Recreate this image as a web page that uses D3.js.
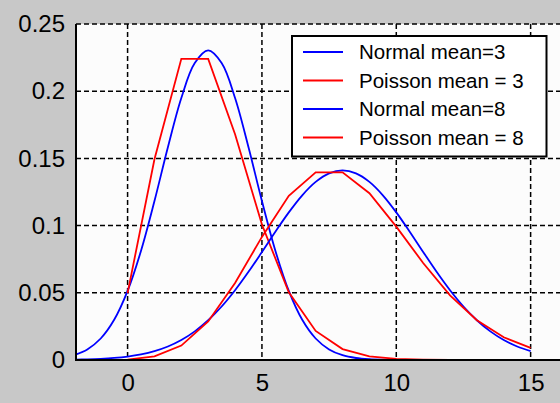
<!DOCTYPE html>
<html>
<head>
<meta charset="utf-8">
<script src="https://cdn.jsdelivr.net/npm/d3@7"></script>
<style>
  html, body { margin: 0; padding: 0; background: #c8c8c8; }
  svg { display: block; }
  text { font-family: "Liberation Sans", Arial, sans-serif; fill: #000; }
</style>
</head>
<body>
<svg id="chart" width="560" height="403"></svg>
<script>
// ---- data ----
const normalX = [-2,-1.5,-1,-0.5,0,0.5,1,1.5,2,2.5,3,3.5,4,4.5,5,5.5,6,6.5,7,7.5,8,8.5,9,9.5,10,10.5,11,11.5,12,12.5,13,13.5,14,14.5,15];
const normal3 = [0.00357,0.00788,0.01600,0.02990,0.05139,0.08128,0.11826,0.15830,0.19497,0.22093,0.23033,0.22093,0.19497,0.15830,0.11826,0.08128,0.05139,0.02990,0.01600,0.00788,0.00357,0.00149,0.00057,0.00020,0.00007,0.00002,0,0,0,0,0,0,0,0,0];
const normal8 = [0.00027,0.00050,0.00089,0.00154,0.00258,0.00419,0.00660,0.01006,0.01487,0.02130,0.02957,0.03979,0.05189,0.06559,0.08037,0.09544,0.10985,0.12255,0.13250,0.13886,0.14105,0.13886,0.13250,0.12255,0.10985,0.09544,0.08037,0.06559,0.05189,0.03979,0.02957,0.02130,0.01487,0.01006,0.00660];
const poissonX = [0,1,2,3,4,5,6,7,8,9,10,11,12,13,14,15];
const poisson3 = [0.04979,0.14936,0.22404,0.22404,0.16803,0.10082,0.05041,0.02160,0.00810,0.00270,0.00081,0.00022,0.00006,0.00001,0,0];
const poisson8 = [0.00034,0.00268,0.01073,0.02863,0.05725,0.09160,0.12214,0.13959,0.13959,0.12408,0.09926,0.07219,0.04813,0.02962,0.01692,0.00903];
const legendLabels = ["Normal mean=3", "Poisson mean = 3", "Normal mean=8", "Poisson mean = 8"];
const xTicks = [0, 5, 10, 15];
const yTicks = [0, 0.05, 0.1, 0.15, 0.2, 0.25];
const yTickLabels = ["0", "0.05", "0.1", "0.15", "0.2", "0.25"];

// ---- layout ----
const L = 76, R = 557.5, T = 24, B = 360;
const svg = d3.select("#chart");
const x = d3.scaleLinear().domain([-1.92, 16]).range([L, R]);
const y = d3.scaleLinear().domain([0, 0.25]).range([B, T]);

svg.append("rect").attr("x", 0).attr("y", 0).attr("width", 560).attr("height", 403).attr("fill", "#c8c8c8");
svg.append("rect").attr("x", L).attr("y", T).attr("width", 560 - L).attr("height", B - T).attr("fill", "#fcfcfc");

svg.append("clipPath").attr("id", "clip").append("rect")
  .attr("x", L).attr("y", T - 5).attr("width", 560 - L).attr("height", B - T + 6);

// grid
const grid = svg.append("g");
grid.selectAll("line.gx").data(xTicks).join("line")
  .attr("x1", d => x(d)).attr("x2", d => x(d)).attr("y1", T).attr("y2", B)
  .attr("stroke", "#000").attr("stroke-width", 1.5).attr("stroke-dasharray", "5,3");
grid.selectAll("line.gy").data(yTicks.filter(d => d > 0)).join("line")
  .attr("x1", L).attr("x2", 560).attr("y1", d => y(d)).attr("y2", d => y(d))
  .attr("stroke", "#000").attr("stroke-width", 1.5).attr("stroke-dasharray", "5,3");

// curves
const series = [
  { xs: normalX, ys: normal3, color: "#0000ff", curve: d3.curveCatmullRom },
  { xs: poissonX, ys: poisson3, color: "#ff0000", curve: d3.curveLinear },
  { xs: normalX, ys: normal8, color: "#0000ff", curve: d3.curveCatmullRom },
  { xs: poissonX, ys: poisson8, color: "#ff0000", curve: d3.curveLinear }
];
const plot = svg.append("g").attr("clip-path", "url(#clip)");
series.forEach(s => {
  const line = d3.line().x((d, i) => x(s.xs[i])).y(d => y(d)).curve(s.curve);
  plot.append("path").attr("d", line(s.ys)).attr("fill", "none")
    .attr("stroke", s.color).attr("stroke-width", 1.8);
});

// axes lines
svg.append("line").attr("x1", L).attr("x2", L).attr("y1", T).attr("y2", B + 1)
  .attr("stroke", "#000").attr("stroke-width", 2);
svg.append("line").attr("x1", L).attr("x2", 560).attr("y1", B).attr("y2", B)
  .attr("stroke", "#000").attr("stroke-width", 2);

// tick labels
const xAxis = d3.axisBottom(x).tickValues(xTicks).tickSize(0).tickPadding(14).tickFormat(d3.format("d"));
const gx = svg.append("g").attr("transform", `translate(0,${B})`).call(xAxis);
gx.select(".domain").remove();
gx.selectAll("text").attr("font-size", 24).attr("font-family", "Liberation Sans, Arial, sans-serif").attr("fill", "#000");

const yAxis = d3.axisLeft(y).tickValues(yTicks).tickSize(0).tickPadding(11).tickFormat((d, i) => yTickLabels[i]);
const gy = svg.append("g").attr("transform", `translate(${L},0)`).call(yAxis);
gy.select(".domain").remove();
gy.selectAll("text").attr("font-size", 24).attr("font-family", "Liberation Sans, Arial, sans-serif").attr("fill", "#000");

// legend
const lg = svg.append("g");
lg.append("rect").attr("x", 292).attr("y", 36).attr("width", 254.5).attr("height", 120.5)
  .attr("fill", "#ffffff").attr("stroke", "#000").attr("stroke-width", 2);
const legendColors = series.map(s => s.color);
const rowY = d3.scaleLinear().domain([0, 3]).range([52, 137.5]);
legendLabels.forEach((lab, i) => {
  lg.append("line").attr("x1", 303).attr("x2", 343).attr("y1", rowY(i)).attr("y2", rowY(i))
    .attr("stroke", legendColors[i]).attr("stroke-width", 2);
  lg.append("text").attr("x", 359).attr("y", rowY(i)).attr("dy", "0.36em")
    .attr("font-size", 20.5).text(lab);
});
</script>
</body>
</html>
